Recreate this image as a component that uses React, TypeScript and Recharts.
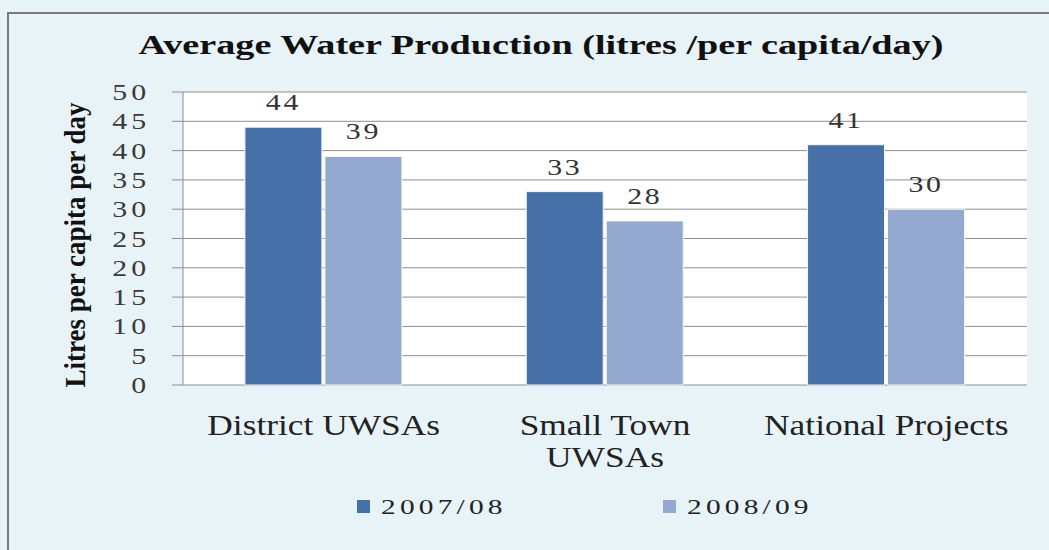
import React from 'react';
import { BarChart, Bar, XAxis, YAxis, CartesianGrid, Legend, LabelList } from 'recharts';

const categories = ['District UWSAs', 'Small Town UWSAs', 'National Projects'];
const categoryLines = [['District UWSAs'], ['Small Town', 'UWSAs'], ['National Projects']];
const values2007 = [44, 33, 41];
const values2008 = [39, 28, 30];
const seriesNames = ['2007/08', '2008/09'];
const yTicks = [0, 5, 10, 15, 20, 25, 30, 35, 40, 45, 50];
const edgeTicks = [0, 1, 2, 3];

const title = 'Average Water Production (litres /per capita/day)';
const yTitle = 'Litres per capita per day';

const dark = '#4770a8';
const light = '#94a9d0';
const serif = "'Liberation Serif', 'Times New Roman', serif";

const data = categories.map((name, i) => ({ name, a: values2007[i], b: values2008[i] }));

const YTick = ({ x, y, payload }: any) => (
  <text
    transform={`translate(${x},${y}) scale(1.3,1)`}
    textAnchor="end"
    dy="0.35em"
    fontFamily={serif}
    fontSize={23}
    letterSpacing={3}
    fill="#3a3a3a"
  >
    {payload.value}
  </text>
);

const XTick = ({ x, y, index }: any) => {
  const lines = categoryLines[index] || [];
  return (
    <g transform={`translate(${x},${y})`}>
      {lines.map((l, i) => (
        <text
          key={i}
          transform={`translate(0,${50 + i * 32}) scale(1.22,1)`}
          textAnchor="middle"
          fontFamily={serif}
          fontSize={29}
          fill="#222"
        >
          {l}
        </text>
      ))}
    </g>
  );
};

const ValueLabel = ({ x, y, width, value }: any) => (
  <text
    transform={`translate(${x + width / 2},${y - 17}) scale(1.3,1)`}
    textAnchor="middle"
    fontFamily={serif}
    fontSize={23}
    letterSpacing={2}
    fill="#333"
  >
    {value}
  </text>
);

const YLabel = () => (
  <text
    transform="translate(85,245) rotate(-90)"
    textAnchor="middle"
    fontFamily={serif}
    fontWeight="bold"
    fontSize={30}
    textLength={285}
    lengthAdjust="spacingAndGlyphs"
    fill="#111"
  >
    {yTitle}
  </text>
);

const legendLeft = [357, 663];
const LegendBox = () => (
  <div style={{ position: 'relative', height: 30 }}>
    {seriesNames.map((s, i) => (
      <div key={s} style={{ position: 'absolute', left: legendLeft[i], top: 0, height: 30 }}>
        <span
          style={{
            position: 'absolute', left: 0, top: 8, width: 13, height: 13,
            background: i === 0 ? dark : light,
          }}
        />
        <span
          style={{
            position: 'absolute', left: 24, top: 0, whiteSpace: 'nowrap',
            fontFamily: serif, fontSize: 21, letterSpacing: 3, color: '#222',
            transform: 'scaleX(1.4)', transformOrigin: 'left',
            lineHeight: '30px',
          }}
        >
          {s}
        </span>
      </div>
    ))}
  </div>
);

export default function App() {
  return (
    <div style={{ position: 'absolute', left: 0, top: 0, width: 1049, height: 550, overflow: 'hidden', background: '#e8f3f7' }}>
      <div style={{ position: 'absolute', left: 7, top: 12, width: 1060, height: 560, border: '2px solid #7a7a7a' }} />
      <svg width={1049} height={80} style={{ position: 'absolute', left: 0, top: 0 }}>
        <text
          x={541}
          y={54}
          textAnchor="middle"
          fontFamily={serif}
          fontWeight="bold"
          fontSize={27}
          textLength={805}
          lengthAdjust="spacingAndGlyphs"
          fill="#111"
        >
          {title}
        </text>
      </svg>
      <div style={{ position: 'absolute', left: 0, top: 0 }}>
        <BarChart
          width={1049}
          height={550}
          data={data}
          margin={{ top: 92, right: 22, left: 0, bottom: 20 }}
          barCategoryGap="22%"
          barGap={3}
        >
          <CartesianGrid xAxisId="cat" yAxisId="y" vertical={false} stroke="#8e8e8e" fill="#ffffff" fillOpacity={1} />
          <XAxis
            xAxisId="edge"
            type="number"
            domain={[0, 3]}
            ticks={edgeTicks}
            allowDataOverflow
            height={0}
            tick={false}
            tickSize={7}
            axisLine={{ stroke: '#8e8e8e' }}
            tickLine={{ stroke: '#8e8e8e' }}
          />
          <XAxis
            xAxisId="cat"
            dataKey="name"
            height={115}
            axisLine={false}
            tickLine={false}
            tickSize={0}
            tickMargin={0}
            interval={0}
            tick={<XTick />}
          />
          <YAxis
            yAxisId="y"
            width={183}
            domain={[0, 50]}
            ticks={yTicks}
            interval={0}
            tickSize={11}
            tickMargin={22}
            axisLine={{ stroke: '#8e8e8e' }}
            tickLine={{ stroke: '#8e8e8e' }}
            tick={<YTick />}
            label={{ content: <YLabel /> }}
          />
          <Legend verticalAlign="bottom" content={<LegendBox />} wrapperStyle={{ top: 492, left: 0, width: 1049, height: 30 }} />
          <Bar xAxisId="cat" yAxisId="y" dataKey="a" name={seriesNames[0]} fill={dark} stroke="#f4f8fb" strokeWidth={1} isAnimationActive={false}>
            <LabelList dataKey="a" content={<ValueLabel />} />
          </Bar>
          <Bar xAxisId="cat" yAxisId="y" dataKey="b" name={seriesNames[1]} fill={light} stroke="#f4f8fb" strokeWidth={1} isAnimationActive={false}>
            <LabelList dataKey="b" content={<ValueLabel />} />
          </Bar>
        </BarChart>
      </div>
    </div>
  );
}
